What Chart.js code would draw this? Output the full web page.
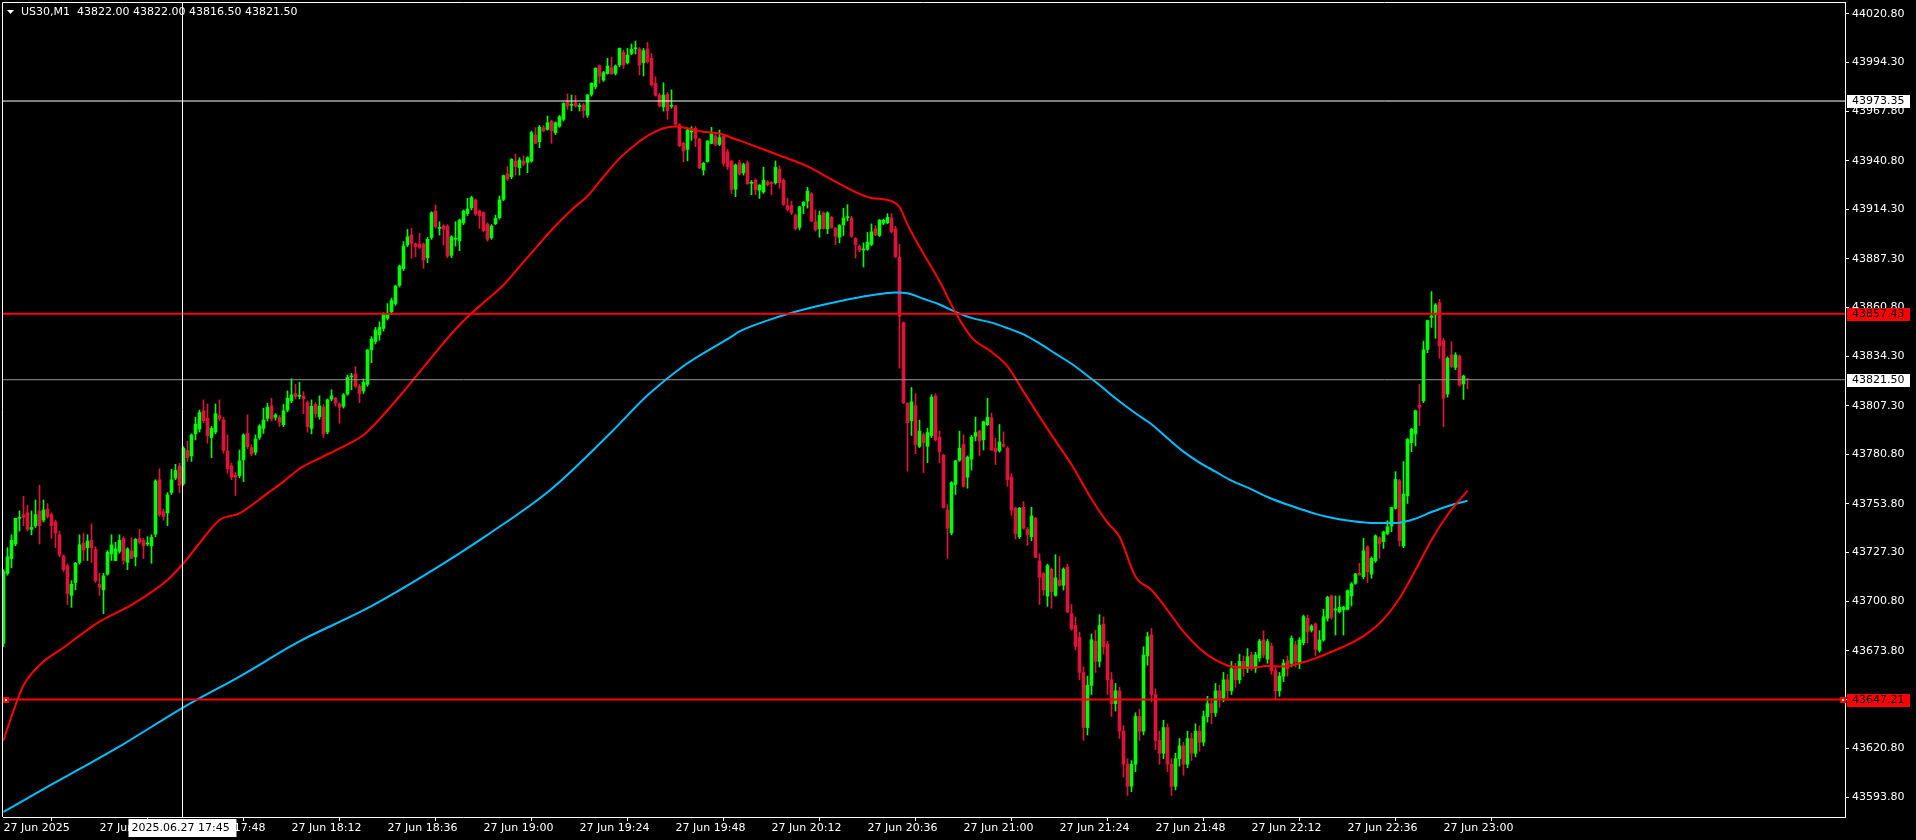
<!DOCTYPE html>
<html>
<head>
<meta charset="utf-8">
<title>US30,M1</title>
<script src="https://cdn.jsdelivr.net/npm/chart.js@4.4.1/dist/chart.umd.min.js"></script>
<style>
html,body{margin:0;padding:0;background:#000;overflow:hidden}
canvas{display:block}
</style>
</head>
<body>
<canvas id="chart" width="1916" height="840"></canvas>
<script>
/*///////////////////////////////////////////////////////////
資料 US30 M1 27 Jun 2025 17:00 ~ 23:06
///////////////////////////////////////////////////////////*/
var symbolName = 'US30,M1';
var startHour = 17;

var opens = [
43678,43716,43724,43732,43746,43748,43749,43740,43742,43750,
43745,43751,43748,43744,43737,43725.5,43720,43704,43711,43722,
43732.4,43730,43734,43729,43710,43707,43715.6,43726.6,43723,43728,
43735,43722,43728.2,43725,43735,43734,43732,43731,43737.4,43767,
43749.6,43749,43760,43768,43774.5,43765,43783,43780,43792,43794.7,
43804.5,43800.5,43790,43793,43802,43799.6,43782.7,43774.5,43769.4,43769.3,
43777.8,43792.3,43784.5,43782,43790,43795,43800.5,43807.3,43801,43801,
43797,43805,43810,43814,43812.5,43812.6,43809,43795,43808,43801.4,
43806.5,43793,43811,43811.4,43808.3,43807,43813.7,43823,43824.7,43818,
43815.4,43819,43837.7,43842.3,43846,43849.5,43855,43858.5,43863,43873,
43882,43895,43900.3,43895.5,43895.4,43895.4,43888,43899,43913.4,43904,
43905.2,43905.2,43889.3,43898,43897.2,43907,43912,43915.2,43919.4,43913.4,
43912.5,43906.3,43898.9,43906.5,43909.8,43919.8,43933.6,43932.1,43940.6,43937,
43940.6,43939.9,43940.6,43954.8,43951.2,43958.8,43957.9,43962.4,43956.1,43959.7,
43963.4,43973,43971,43972.4,43970.3,43971.2,43965.7,43977,43981.2,43992.6,
43984.8,43988.4,43991.5,43988.4,43993,43999.9,43994.2,43999.3,44001.8,44001.7,
43994.2,44001.7,43996.6,43983,43976.6,43970.2,43977.1,43970.5,43970.6,43960.3,
43950.3,43947,43956.5,43958.5,43952.6,43935.8,43940.3,43950.3,43954.3,43949.7,
43954.3,43945.7,43940.6,43925.3,43939.7,43934.2,43939.7,43928.5,43930.2,43924.8,
43923.9,43929.2,43928.7,43928.8,43936.2,43930.2,43916.3,43916.3,43911,43904.5,
43916.3,43918.9,43922.9,43907.6,43903.7,43912.4,43903.7,43910,43904,43899.1,
43905.9,43909.8,43909.6,43898.5,43894.2,43892.2,43892.6,43895.2,43903.7,43900.1,
43906.8,43907,43909.6,43903.7,43888.2,43852.6,43808.6,43799.1,43807.4,43785.2,
43791.5,43785.2,43791.1,43812.6,43790.2,43780.3,43750.5,43738,43764.4,43777.7,
43786.2,43768.4,43778.3,43790.7,43793.5,43788.8,43797,43800.7,43784.2,43782.8,
43786.2,43784.2,43768.4,43751.5,43736,43751.9,43740,43736,43746,43722.8,
43715.8,43703.6,43718.2,43704,43712.3,43709.5,43719.4,43694.1,43687.7,43681,
43662,43632,43655,43679,43668,43688.4,43677.5,43658,43645,43652,
43630,43612,43600,43612,43638,43630,43671,43682.4,43650,43625,
43618,43632,43612,43600,43615,43622,43612,43626,43618,43630,
43624,43638,43645,43640,43652,43648,43658,43652,43664,43658,
43668,43664,43671.5,43664.3,43670,43679.7,43669.3,43676.4,43663,43652,
43660,43668.4,43667,43677,43667,43678.2,43691.5,43685,43688.4,43674,
43679.7,43691.5,43703.7,43696,43695.1,43696.1,43696.4,43703.7,43710.6,43716,
43714.2,43730.5,43715.6,43722.9,43735.4,43733.3,43737.7,43741.8,43751.4,43766.5,
43730.9,43758.2,43787.2,43792,43807.7,43810.1,43838,43855.5,43856.8,43863.5,
43842.8,43813.7,43835,43828.2,43834.4,43819.2,43822
];
var highs = [
43718,43730,43737,43746,43750,43758,43753,43750,43756,43764,
43756,43754,43749,43745,43739,43726,43721,43712,43722,43737,
43737.8,43737,43743,43730.5,43716,43716,43728.4,43737,43733,43737,
43736,43730,43735.4,43735,43740,43735,43736,43737,43767,43773,
43751,43760,43772.7,43775.4,43776,43785,43788,43792,43801,43805,
43810.5,43808.3,43796,43808.3,43810.5,43801,43791.4,43776,43771,43783.2,
43792,43802.3,43786,43791.4,43797,43806,43808.7,43811.4,43803,43802,
43808,43815.4,43822,43819,43820,43815,43810,43810.5,43809,43812.7,
43808,43811,43816,43812,43809,43814,43824,43825,43828.6,43819,
43822,43838,43845,43850,43853,43858,43863,43866,43873,43884,
43896.7,43903.4,43904,43896,43901.3,43896,43899,43913,43916.7,43907.6,
43906,43906,43900,43907.6,43909,43914,43920.3,43921.5,43920,43914,
43913,43907,43906,43911.2,43921.6,43933,43937.6,43942,43944.5,43942.5,
43943.4,43943,43957,43958.8,43960,43960,43965.2,43963,43962,43965.5,
43972.5,43977.2,43976.6,43976.3,43972,43972,43977,43983.3,43991.5,43993,
43989.5,43996.6,43997.1,43993,44002.3,44001,44002,44004.4,44006,44002.5,
44002,44005.3,43999.3,43986.6,43977.5,43983.3,43978,43979.4,43971,43961,
43951,43958,43959.4,43959.4,43953,43940,43951.8,43959,43955,43957.5,
43955,43947,43941,43939,43941.2,43939.5,43940.7,43930,43931,43927.8,
43937.3,43930,43929.5,43940.7,43938.1,43931,43920.3,43918.9,43912,43916,
43918.5,43926.3,43923.5,43914,43913.4,43913,43913,43910.5,43904.5,43906,
43914.9,43916.9,43910.5,43899,43895,43896.1,43901.7,43906.4,43905.6,43908.8,
43909,43912,43912,43905.1,43895.2,43853,43809,43817.3,43813.9,43799.5,
43792.5,43795.1,43813.3,43813.9,43793.5,43781,43753.5,43766,43777.5,43793.5,
43791.5,43780,43791.1,43801.1,43794,43799,43811.4,43803.4,43789.5,43797.1,
43793.1,43785,43770.4,43752,43752,43755.1,43741,43752,43746.5,43726.7,
43716.5,43721,43719,43726.2,43725.2,43719,43721,43699,43692,43684,
43665,43660,43683,43685,43693.5,43692.3,43679,43662,43656,43654,
43633,43615,43614,43640,43642,43676,43684,43686,43653,43630,
43636,43634,43615,43618,43626,43624,43630,43629,43634,43633,
43641,43649,43648,43656,43655,43662,43661,43668,43667,43672,
43671,43675,43673,43673,43680,43684.8,43680,43678,43665,43662,
43669,43671,43682,43679,43681,43693.3,43693.3,43688,43689,43684.8,
43696.4,43703.5,43704.2,43703.7,43703.7,43698,43707,43711,43716,43721.5,
43735.1,43731,43725,43737,43736,43739,43744.7,43752,43771.4,43767.2,
43776.9,43789.5,43795,43805,43819,43842.6,43854,43869.5,43863,43865.3,
43844,43834,43842.2,43836.2,43835,43824,43822
];
var lows = [
43676,43715,43719,43731,43739,43742,43739,43737,43741,43732,
43744,43746,43735,43730,43725,43717,43699,43697.5,43707,43721,
43722.9,43723,43722,43711,43704,43694,43715,43723,43722.8,43727,
43721,43718,43724,43720,43732,43724,43731,43721.5,43736,43747,
43745,43742,43759,43767,43760,43764,43777,43777,43788.7,43793,
43798,43786.9,43779,43792,43799,43781.4,43770.5,43767,43758.4,43768,
43766,43784,43780,43780.5,43789,43792.3,43799,43799,43799.5,43796,
43796,43804,43809,43811,43811,43803,43793,43792,43801,43800,
43790,43792,43810,43807,43797.8,43806,43813,43816,43817,43809,
43814,43818,43830.8,43841,43843,43848,43854,43857,43862,43872,
43881,43894,43887.6,43888.5,43893,43882.2,43885.3,43898,43904,43900.3,
43894.9,43888,43888,43894.3,43891.8,43906,43911,43914,43911,43904,
43902,43897,43898,43906,43909,43919,43930,43931,43933,43933,
43938,43934.3,43940,43950,43947.9,43956.5,43957.5,43950.3,43955,43959,
43962.5,43968.8,43968,43970,43967.9,43964.4,43964.4,43976,43980,43983,
43984,43988,43988,43987.5,43992,43991.2,43993.5,43998.5,43999,43987.5,
43987,43994,43981.5,43976,43970,43967.9,43963.4,43969.4,43960,43948.5,
43940.3,43940.8,43952,43948.5,43936.5,43933,43940,43950,43949,43949,
43938,43936,43923,43921.2,43933,43933,43928,43922.3,43922.3,43920.3,
43923,43927,43922.3,43928,43925.9,43916.5,43913.5,43911.5,43903,43903.1,
43912,43915,43907.5,43902.5,43899.1,43903.5,43901.1,43904,43895.2,43896.1,
43900.1,43908,43899,43887.8,43891.2,43882.9,43892,43894.5,43900,43899.5,
43906,43906.5,43901.5,43888,43827.8,43808.5,43771.7,43791.1,43781.2,43784.5,
43770.9,43776.3,43790,43788,43776.3,43751.5,43724.2,43737,43759,43777,
43763,43762.4,43772.3,43788.2,43780.2,43783.2,43796.5,43783,43775.3,43782,
43784.7,43763.4,43747.6,43734.7,43735,43740,43731.3,43733.7,43724.5,43699,
43704,43698,43697,43703.5,43709,43706.9,43694.5,43685,43674.3,43658,
43625,43628,43650,43662,43665,43672,43650,43638,43641,43626,
43605,43595,43597,43608,43625,43628,43666,43646,43620,43612,
43615,43608,43595,43598,43611,43606,43610,43614,43616,43619,
43622,43635,43634,43638,43643,43646,43647,43650,43654,43656,
43660,43662,43663,43662,43668,43670,43667,43661,43647.5,43649,
43657,43660,43665,43665,43664,43677,43678.2,43684,43671,43673,
43679,43690,43691,43682.4,43694.5,43682.4,43696,43698.2,43710,43715,
43713,43711,43713.3,43722,43724.2,43729.6,43737,43738.7,43751,43730.9,
43730,43754.1,43782.3,43785.4,43796.5,43809,43836.2,43850,43844.1,43833.2,
43795.9,43812,43828,43827,43818,43810.8,43816.5
];
var closes = [
43717,43725,43734,43746,43746.5,43746.5,43740,43741,43748,43742,
43750.5,43747,43742,43738,43726,43718,43705,43710,43721.5,43731.5,
43728.7,43733.6,43730,43712,43708.4,43714.6,43727.5,43731.5,43729.3,43734,
43723,43729.3,43724.2,43734.5,43733,43731,43732.4,43735.6,43766.3,43748,
43747,43758.7,43767,43772,43764,43784,43779,43791.4,43797.3,43803.6,
43799.2,43791,43795,43803,43800.3,43783,43773,43768.4,43768.4,43777.3,
43791.4,43785,43781,43789.2,43796.3,43799.6,43806.5,43800.1,43802.3,43798.3,
43804.5,43811.4,43813.2,43812.3,43813,43811,43796,43807,43803,43807.2,
43792,43810.5,43812.7,43808.7,43806.5,43813.2,43822.7,43823.4,43818,43814,
43820,43837.7,43843.7,43848.6,43850,43857.6,43857,43864.6,43872.5,43883.4,
43894.3,43899.4,43895.8,43894,43893.6,43886.7,43898,43912.5,43904.9,43904.2,
43903.6,43888.9,43899.4,43898.3,43908.5,43913.4,43914.5,43920.7,43911.8,43910.9,
43902.7,43898,43905.2,43909.4,43919.4,43932.7,43930.9,43941.5,43937.6,43941.2,
43939,43942.5,43956.1,43950.3,43959,43957.2,43961.5,43957.2,43961.5,43964.8,
43972,43970.6,43971.2,43970.6,43970.5,43968.1,43976.6,43983,43991.2,43987,
43988.8,43992.4,43988.1,43992.4,44002,43993,43998.4,44001.5,44002.2,43993,
44000.8,43994.8,43982.1,43976.6,43970.6,43976.6,43968.1,43970.6,43960.8,43949,
43946.1,43957.5,43956.7,43953,43937,43939.4,43951.5,43955.4,43949.7,43953.4,
43939.4,43937.5,43925.2,43938.5,43933.6,43938.7,43928.2,43929,43924.9,43927.5,
43930.2,43927.8,43928.3,43937.3,43928.8,43917,43914.3,43912.4,43903.7,43915.6,
43918.3,43924.3,43908,43903.1,43911,43904,43912.4,43904.5,43899.7,43905.5,
43909.6,43910,43899.7,43895.2,43892.2,43892.4,43896.5,43902.1,43900.5,43908.4,
43908.4,43910,43902.1,43888.6,43856.1,43809,43798.1,43809.4,43786.2,43793.5,
43787.2,43792.7,43812,43788.8,43782.2,43751.9,43740.6,43765.4,43777.3,43784.2,
43763.4,43779.3,43790.2,43792.7,43788.2,43798.6,43801.1,43783.2,43782.2,43787.6,
43785.2,43767,43750.5,43737.6,43751.5,43740.6,43737.2,43747.2,43724.8,43713.9,
43707,43720.2,43706,43713.5,43709.5,43718.2,43695,43685.7,43676.2,43662,
43632,43655,43679.8,43668,43687.7,43676.1,43658,43645,43652,43630,
43612,43600,43612,43638,43630,43671.5,43681.5,43650,43625,43618,
43632,43612,43600,43615,43622,43612,43626,43618,43630,43624,
43638,43645,43640,43652,43648,43658,43652,43664,43658,43668,
43664,43670.6,43664.3,43671.5,43679,43671.5,43678.8,43663,43652,43660,
43667,43664,43680.6,43667.9,43679.7,43692.4,43684.2,43687.3,43674.6,43679.7,
43692.4,43702.9,43692,43696.6,43697.5,43697.6,43706.6,43710.2,43715.6,43715.1,
43728.2,43716.9,43724.2,43736.4,43732,43738.5,43741.4,43751.8,43767.2,43733.8,
43759.2,43789,43794.5,43804.6,43806.5,43837.7,43853.7,43856.2,43862.2,43839.9,
43811.4,43833.2,43828.6,43835,43818.6,43823.5,43821.5
];

// 均線 (讀圖取樣點: 分鐘, 價格)
var fastMaMinutes = [0,2,5,10,14,24,32,41,45,49,54,59,66,70,74,79,84,90,94,100,106,113,117,121,125,129,133,137,142,146,150,154,158,161,165,168,171,175,179,183,186,192,201,209,217,221,224,226,230,234,238,242,247,251,255,259,263,267,272,276,279,283,287,291,295,299,303,307,312,316,320,324,328,332,336,341,345,349,353,357,361,366];
var fastMaValues = [43625,43638,43655,43668,43674,43689.7,43698.8,43712.4,43721.5,43732.4,43745.1,43748.7,43759.6,43766,43773,43778.7,43784.1,43791.4,43800,43815,43831,43849,43857.7,43865.3,43873.1,43883.1,43893.1,43903.1,43914,43921.6,43932.1,43942.1,43949.7,43954.3,43958.5,43959.4,43958.5,43956.6,43955.7,43952.5,43950.3,43945.3,43937.7,43928.2,43920.5,43919.5,43915.6,43906,43890.2,43875.3,43858.1,43844.6,43836.7,43828.8,43815,43801.4,43788.2,43775.3,43756.5,43743.6,43736,43714.2,43706.9,43696,43684.2,43675.1,43668.8,43665.2,43664.6,43665.5,43665.2,43667,43669.7,43673.3,43677,43683.3,43690.9,43702.4,43717.8,43734.2,43747.8,43761.1];
var slowMaMinutes = [0,8,15,30,45,60,70,74,91,106,121,137,152,161,170,182,184,192,196,201,209,217,223,226,230,234,238,242,247,251,255,259,263,267,272,274,278,283,287,291,295,299,303,307,312,316,320,324,328,332,336,341,345,349,353,357,361,366];
var slowMaValues = [43586,43596,43604.5,43623,43643,43661,43674,43679,43697,43716,43737,43762,43793,43813,43829,43845,43847.8,43854.5,43857.3,43860.3,43864.3,43867.5,43869,43868.6,43865.6,43862.5,43858.5,43855.2,43852.6,43849.6,43846.2,43841.3,43835.7,43830.2,43822,43818.6,43811.4,43803.2,43797.2,43789.6,43782.3,43776.3,43771.4,43766.5,43761.8,43757.6,43754.2,43751.2,43748.4,43746.3,43744.8,43743.6,43743.4,43743.6,43745.8,43749.4,43752.6,43755.6];

// 座標軸刻度
var priceTicks = [44020.80,43994.30,43967.80,43940.80,43914.30,43887.30,43860.80,43834.30,43807.30,43780.80,43753.80,43727.30,43700.80,43673.80,43647.30,43620.80,43593.80];
var timeTicks = [0,24,48,72,96,120,144,168,192,216,240,264,288,312,336,360];

// 水平線 / 十字線
var levelValues = [43973.35,43857.43,43821.50,43647.21];
var crossMinute = 44.75;

/*///////////////////////////////////////////////////////////
樣式
///////////////////////////////////////////////////////////*/
var BULL = '#00ff00';
var BEAR = '#dc143c';
var FONT = '"DejaVu Sans", sans-serif';
var Y_MIN = 43583.25, Y_MAX = 44027.3;
var X_MIN = -0.125, X_MAX = 460.375;
var levelStyles = [
    { line: '#ffffff', width: 1, tag: '#ffffff' },
    { line: '#ff0000', width: 2, tag: '#ff0000' },
    { line: '#969696', width: 1, tag: '#ffffff' },
    { line: '#ff0000', width: 2, tag: '#ff0000' }
];

function pad(n) { return (n < 10 ? '0' : '') + n; }
function timeLabel(m) {
    if (m === 0) return '27 Jun 2025';
    var t = startHour * 60 + m;
    return '27 Jun ' + pad(Math.floor(t / 60)) + ':' + pad(t % 60);
}

/*///////////////////////////////////////////////////////////
K線
///////////////////////////////////////////////////////////*/
var wickData = [], bodyData = [], candleColors = [];
for (var i = 0; i < closes.length; i++) {
    var lo = Math.min(lows[i], opens[i], closes[i]);
    var hi = Math.max(highs[i], opens[i], closes[i]);
    wickData.push({ x: i, y: [lo, hi] });
    bodyData.push({ x: i, y: [opens[i], closes[i]] });
    candleColors.push(closes[i] >= opens[i] ? BULL : BEAR);
}
function pairs(xs, ys) {
    var out = [];
    for (var k = 0; k < xs.length; k++) out.push({ x: xs[k], y: ys[k] });
    return out;
}

var datasets = [];
datasets.push({
    type: 'line', label: 'cross', order: 1,
    data: [{ x: crossMinute, y: Y_MIN }, { x: crossMinute, y: Y_MAX }],
    borderColor: '#ffffff', borderWidth: 1, pointRadius: 0
});
levelValues.forEach(function (v, k) {
    datasets.push({
        type: 'line', label: 'level ' + v, order: 2,
        data: [{ x: X_MIN, y: v }, { x: X_MAX, y: v }],
        borderColor: levelStyles[k].line, borderWidth: levelStyles[k].width, pointRadius: 0
    });
});
datasets.push({
    type: 'line', label: 'MA fast', order: 3,
    data: pairs(fastMaMinutes, fastMaValues),
    borderColor: '#ff0000', borderWidth: 2, pointRadius: 0, cubicInterpolationMode: 'monotone'
});
datasets.push({
    type: 'line', label: 'MA slow', order: 4,
    data: pairs(slowMaMinutes, slowMaValues),
    borderColor: '#00bfff', borderWidth: 2, pointRadius: 0, cubicInterpolationMode: 'monotone'
});
datasets.push({
    label: 'body', order: 8, data: bodyData, backgroundColor: candleColors,
    grouped: false, barPercentage: 1, categoryPercentage: 1, maxBarThickness: 3, minBarLength: 1
});
datasets.push({
    label: 'wick', order: 9, data: wickData, backgroundColor: candleColors,
    grouped: false, barPercentage: 1, categoryPercentage: 1, maxBarThickness: 1
});

/*///////////////////////////////////////////////////////////
標題, 價格標籤, 外框
///////////////////////////////////////////////////////////*/
var terminalChrome = {
    id: 'terminalChrome',
    beforeDraw: function (chart) {
        var ctx = chart.ctx;
        ctx.save();
        ctx.fillStyle = '#000';
        ctx.fillRect(0, 0, chart.width, chart.height);
        ctx.restore();
    },
    afterDraw: function (chart) {
        var ctx = chart.ctx, a = chart.chartArea, ys = chart.scales.y, xs = chart.scales.x;
        var last = closes.length - 1;
        ctx.save();
        ctx.strokeStyle = '#ffffff';
        ctx.lineWidth = 1;
        ctx.beginPath();
        ctx.moveTo(2.5, a.bottom);
        ctx.lineTo(2.5, 2.5);
        ctx.lineTo(a.right, 2.5);
        ctx.stroke();

        // title
        ctx.fillStyle = '#ffffff';
        ctx.beginPath();
        ctx.moveTo(7, 10); ctx.lineTo(14, 10); ctx.lineTo(10.5, 14); ctx.closePath();
        ctx.fill();
        ctx.font = '11px ' + FONT;
        ctx.textBaseline = 'middle';
        ctx.textAlign = 'left';
        ctx.fillText(symbolName + '  ' + opens[last].toFixed(2) + ' ' + highs[last].toFixed(2) + ' ' +
            lows[last].toFixed(2) + ' ' + closes[last].toFixed(2), 21, 12);

        // level markers for support line
        var ySup = Math.round(ys.getPixelForValue(levelValues[3]));
        [a.left + 1, a.right - 4].forEach(function (px) {
            ctx.fillStyle = '#ff0000';
            ctx.fillRect(px - 1, ySup - 3, 6, 6);
            ctx.fillStyle = '#ffffff';
            ctx.fillRect(px + 1, ySup - 1, 2, 2);
        });

        // price tags
        levelValues.forEach(function (v, k) {
            var y = Math.round(ys.getPixelForValue(v));
            ctx.fillStyle = levelStyles[k].tag;
            ctx.fillRect(a.right + 2, y - 6, 63, 13);
            ctx.fillStyle = '#000';
            ctx.fillText(v.toFixed(2), a.right + 7, y + 0.5);
        });

        // crosshair time tag
        var cm = Math.round(crossMinute), t = startHour * 60 + cm;
        var cx = xs.getPixelForValue(crossMinute);
        ctx.fillStyle = '#ffffff';
        ctx.fillRect(cx - 54, a.bottom + 2, 108, 18);
        ctx.fillStyle = '#000';
        ctx.fillText('2025.06.27 ' + pad(Math.floor(t / 60)) + ':' + pad(t % 60), cx - 51, a.bottom + 11);
        ctx.restore();
    }
};

/*///////////////////////////////////////////////////////////
圖表
///////////////////////////////////////////////////////////*/
Chart.defaults.font.family = FONT;
Chart.defaults.font.size = 11;
Chart.defaults.color = '#ffffff';

new Chart(document.getElementById('chart').getContext('2d'), {
    type: 'bar',
    data: { datasets: datasets },
    options: {
        responsive: false,
        animation: false,
        events: [],
        layout: { padding: { left: 3, top: 2, right: 0, bottom: 0 } },
        plugins: { legend: { display: false }, tooltip: { enabled: false } },
        scales: {
            x: {
                type: 'linear', min: X_MIN, max: X_MAX, bounds: 'data', offset: false,
                afterBuildTicks: function (s) { s.ticks = timeTicks.map(function (v) { return { value: v }; }); },
                afterFit: function (s) { s.height = 23; s.paddingLeft = 0; s.paddingRight = 0; },
                ticks: {
                    color: '#ffffff', padding: 1, align: 'start', autoSkip: false, maxRotation: 0, minRotation: 0,
                    font: { family: FONT, size: 11 },
                    callback: function (v) { return timeLabel(v); }
                },
                grid: { drawOnChartArea: false, drawTicks: true, tickLength: 4, color: '#ffffff' },
                border: { display: true, color: '#ffffff' }
            },
            y: {
                type: 'linear', position: 'right', min: Y_MIN, max: Y_MAX, bounds: 'data',
                afterBuildTicks: function (s) { s.ticks = priceTicks.map(function (v) { return { value: v }; }); },
                afterFit: function (s) { s.width = 71; s.paddingTop = 0; s.paddingBottom = 0; },
                ticks: {
                    color: '#ffffff', padding: 3, autoSkip: false,
                    font: { family: FONT, size: 11 },
                    callback: function (v) { return Number(v).toFixed(2); }
                },
                grid: { drawOnChartArea: false, drawTicks: true, tickLength: 4, color: '#ffffff' },
                border: { display: true, color: '#ffffff' }
            }
        }
    },
    plugins: [terminalChrome]
});
</script>
</body>
</html>
